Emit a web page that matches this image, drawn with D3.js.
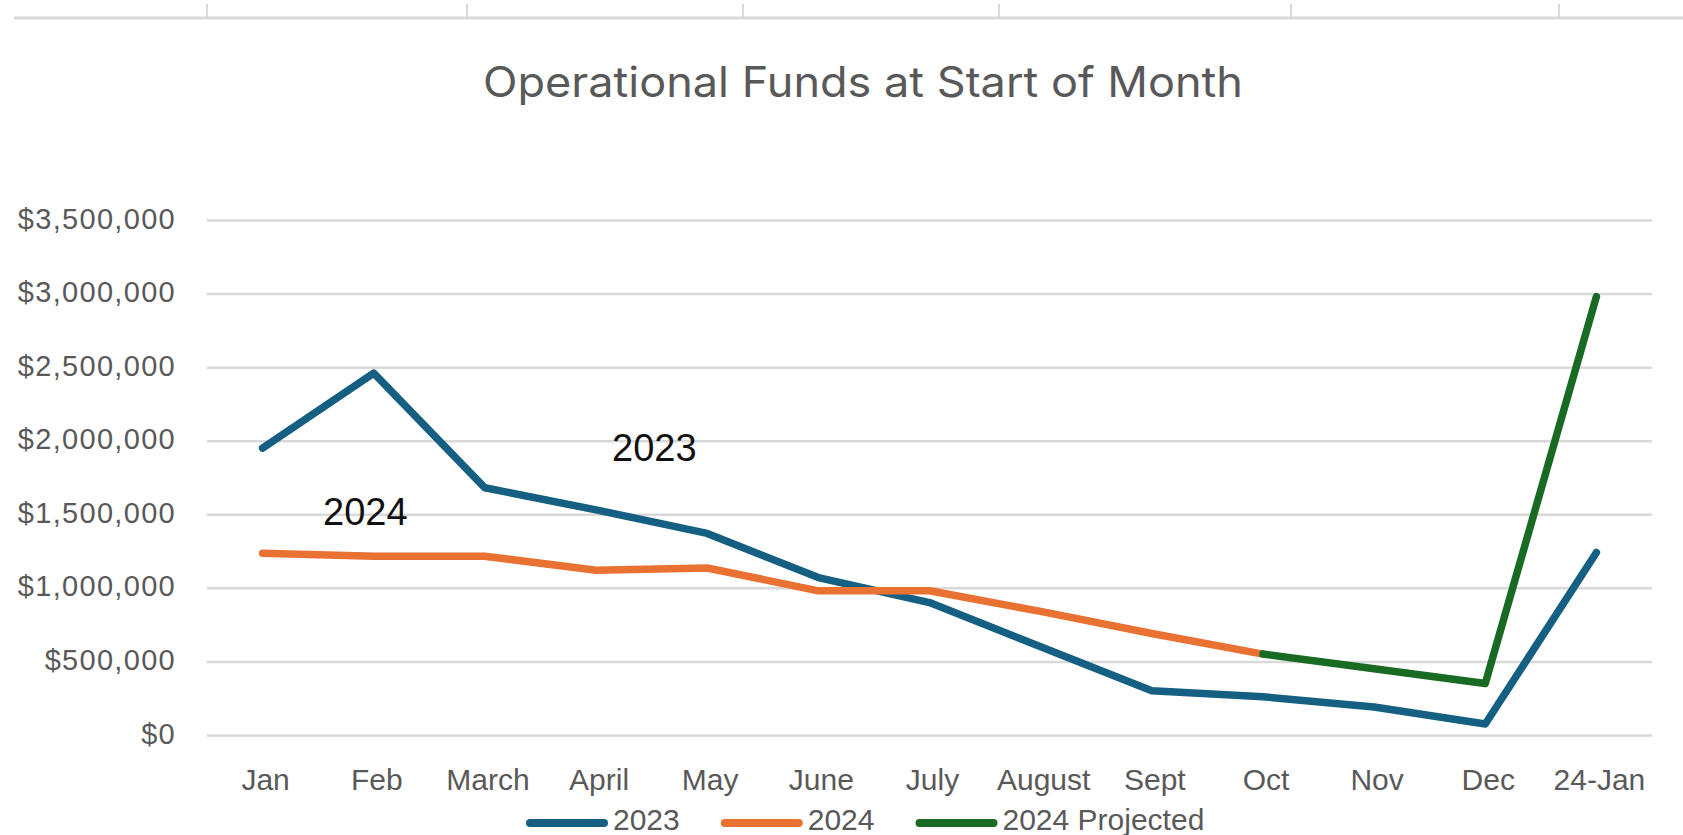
<!DOCTYPE html>
<html>
<head>
<meta charset="utf-8">
<script src="https://cdn.jsdelivr.net/npm/d3@7"></script>
<style>
  body { margin: 0; background: #fff; }
  svg { display: block; }
</style>
</head>
<body>
<svg id="chart" width="1683" height="835"></svg>
<script>
var months = ["Jan", "Feb", "March", "April", "May", "June", "July", "August", "Sept", "Oct", "Nov", "Dec", "24-Jan"];
var funds2023 = [1950000, 2460000, 1680000, 1530000, 1370000, 1070000, 900000, 600000, 300000, 260000, 190000, 75000, 1240000];
var funds2024 = [1235000, 1215000, 1215000, 1120000, 1135000, 980000, 980000, 840000, 690000, 550000, null, null, null];
var funds2024Projected = [null, null, null, null, null, null, null, null, null, 550000, 450000, 350000, 2980000];
var yTicks = [0, 500000, 1000000, 1500000, 2000000, 2500000, 3000000, 3500000];
var seriesNames = ["2023", "2024", "2024 Projected"];
var seriesColors = ["#156082", "#E97132", "#196B24"];

var svg = d3.select("#chart"),
    plotLeft = 207,
    plotRight = 1652,
    plotTop = 220,
    plotBottom = 735;

var xScale = d3.scaleBand().domain(months).range([plotLeft, plotRight]),
    yScale = d3.scaleLinear().domain([0, 3500000]).range([plotBottom, plotTop]);

function xc(m) { return xScale(m) + xScale.bandwidth() / 2; }

// sheet border artifact at the top
svg.append("line")
    .attr("x1", 14).attr("x2", 1683)
    .attr("y1", 18).attr("y2", 18)
    .attr("stroke", "#d9d9d9").attr("stroke-width", 3);
[207, 467, 743, 999, 1291, 1559].forEach(function (x) {
    svg.append("line")
        .attr("x1", x).attr("x2", x)
        .attr("y1", 4).attr("y2", 17)
        .attr("stroke", "#d9d9d9").attr("stroke-width", 2);
});

// title
svg.append("text")
    .attr("x", 483)
    .attr("y", 97)
    .attr("font-family", "Inter, 'Open Sans', sans-serif")
    .attr("font-size", "42px")
    .attr("fill", "#595959")
    .attr("textLength", 760)
    .attr("lengthAdjust", "spacingAndGlyphs")
    .text("Operational Funds at Start of Month");

// Y axis + gridlines
var yAxis = svg.append("g")
    .attr("transform", "translate(" + plotLeft + ",0)")
    .call(d3.axisLeft(yScale)
        .tickValues(yTicks)
        .tickFormat(d3.format("$,.0f"))
        .tickSize(-(plotRight - plotLeft))
        .tickPadding(31));
yAxis.select(".domain").remove();
yAxis.selectAll(".tick line")
    .attr("stroke", "#d9d9d9")
    .attr("stroke-width", 2.5);
yAxis.selectAll(".tick text")
    .attr("font-family", "'Liberation Sans', Arial, sans-serif")
    .attr("font-size", "29px")
    .attr("letter-spacing", "1.3px")
    .attr("fill", "#595959")
    .attr("dy", 8);

// X axis
var xAxis = svg.append("g")
    .attr("transform", "translate(0," + plotBottom + ")")
    .call(d3.axisBottom(xScale).tickSize(0));
xAxis.select(".domain").remove();
xAxis.selectAll(".tick text")
    .attr("font-family", "'Liberation Sans', Arial, sans-serif")
    .attr("font-size", "30px")
    .attr("fill", "#595959")
    .attr("y", 55)
    .attr("dy", 0)
    .attr("dx", 3);

// lines
var line = d3.line()
    .defined(function (d) { return d != null; })
    .x(function (d, i) { return xc(months[i]); })
    .y(function (d) { return yScale(d); });

[funds2023, funds2024, funds2024Projected].forEach(function (values, i) {
    svg.append("path")
        .datum(values)
        .attr("fill", "none")
        .attr("stroke", seriesColors[i])
        .attr("stroke-width", 7.5)
        .attr("stroke-linejoin", "round")
        .attr("stroke-linecap", "round")
        .attr("d", line);
});

// text box annotations
svg.append("text")
    .attr("x", 612).attr("y", 461)
    .attr("font-family", "'Liberation Sans', Arial, sans-serif")
    .attr("font-size", "38px")
    .attr("fill", "#111")
    .text("2023");
svg.append("text")
    .attr("x", 323).attr("y", 525)
    .attr("font-family", "'Liberation Sans', Arial, sans-serif")
    .attr("font-size", "38px")
    .attr("fill", "#111")
    .text("2024");

// legend
var lx = 526;
seriesNames.forEach(function (name, i) {
    svg.append("line")
        .attr("x1", lx + 4).attr("x2", lx + 78)
        .attr("y1", 823).attr("y2", 823)
        .attr("stroke", seriesColors[i])
        .attr("stroke-width", 8)
        .attr("stroke-linecap", "round");
    var t = svg.append("text")
        .attr("x", lx + 87)
        .attr("y", 830)
        .attr("font-family", "'Liberation Sans', Arial, sans-serif")
        .attr("font-size", "30px")
        .attr("fill", "#595959")
        .text(name);
    lx = lx + 87 + t.node().getComputedTextLength() + 41;
});
</script>
</body>
</html>
